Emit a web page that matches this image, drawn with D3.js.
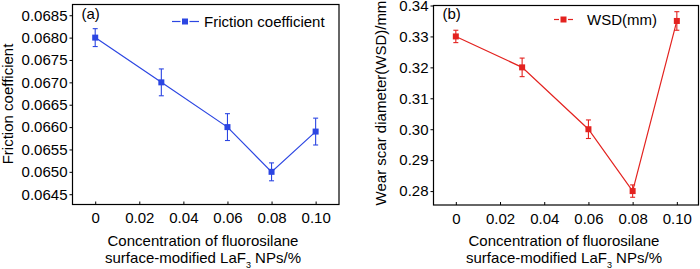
<!DOCTYPE html>
<html>
<head>
<meta charset="utf-8">
<script src="https://cdn.jsdelivr.net/npm/d3@7"></script>
<style>
  body { margin: 0; background: #fff; }
  svg { display: block; font-family: "Liberation Sans", Arial, sans-serif; }
</style>
</head>
<body>
<svg id="chart" width="700" height="269"></svg>
<script>
// data
const concentrations = [0, 0.03, 0.06, 0.08, 0.10];
const frictionValues = [0.0680, 0.0670, 0.0660, 0.0650, 0.0659];
const frictionErrors = [0.0002, 0.0003, 0.0003, 0.0002, 0.0003];
const wsdValues = [0.330, 0.320, 0.300, 0.280, 0.335];
const wsdErrors = [0.002, 0.003, 0.003, 0.002, 0.003];

const xTicks = [0, 0.02, 0.04, 0.06, 0.08, 0.10];
const xTickLabels = ["0", "0.02", "0.04", "0.06", "0.08", "0.10"];
const frictionTicks = [0.0645, 0.0650, 0.0655, 0.0660, 0.0665, 0.0670, 0.0675, 0.0680, 0.0685];
const wsdTicks = [0.28, 0.29, 0.30, 0.31, 0.32, 0.33, 0.34];

const svg = d3.select("#chart");

function drawPanel(opt) {
  const x = d3.scaleLinear().domain(opt.xDomain).range([opt.left, opt.right]);
  const y = d3.scaleLinear().domain(opt.yDomain).range([opt.bottom, opt.top]);
  const g = svg.append("g");

  // bottom axis, ticks pointing inward
  g.append("g")
    .attr("transform", `translate(0,${opt.bottom})`)
    .call(
      d3.axisBottom(x)
        .tickValues(xTicks)
        .tickFormat((d, i) => xTickLabels[i])
        .tickSizeInner(-3)
        .tickSizeOuter(0)
        .tickPadding(8)
    )
    .call((a) => a.select(".domain").remove())
    .call((a) => a.selectAll("text").style("font-size", "15px").attr("fill", "#000"));

  // left axis, ticks outward
  g.append("g")
    .attr("transform", `translate(${opt.left},0)`)
    .call(
      d3.axisLeft(y)
        .tickValues(opt.yTicks)
        .tickFormat(d3.format(opt.yFormat))
        .tickSizeInner(3)
        .tickSizeOuter(0)
        .tickPadding(2)
    )
    .call((a) => a.select(".domain").remove())
    .call((a) => a.selectAll("text").style("font-size", "15px").attr("fill", "#000"));

  // frame
  g.append("rect")
    .attr("x", opt.left)
    .attr("y", opt.top)
    .attr("width", opt.right - opt.left)
    .attr("height", opt.bottom - opt.top)
    .attr("fill", "none")
    .attr("stroke", "#000")
    .attr("stroke-width", 1.2);

  const pts = concentrations.map((c, i) => ({ c: c, v: opt.values[i], e: opt.errors[i] }));

  g.append("path")
    .datum(pts)
    .attr("fill", "none")
    .attr("stroke", opt.color)
    .attr("stroke-width", 1.2)
    .attr("d", d3.line().x((d) => x(d.c)).y((d) => y(d.v)));

  // error bars
  const eb = g.selectAll(".eb").data(pts).enter().append("g").attr("stroke", opt.color).attr("stroke-width", 1.1);
  eb.append("line")
    .attr("x1", (d) => x(d.c)).attr("x2", (d) => x(d.c))
    .attr("y1", (d) => y(d.v + d.e)).attr("y2", (d) => y(d.v - d.e));
  eb.append("line")
    .attr("x1", (d) => x(d.c) - 2.5).attr("x2", (d) => x(d.c) + 2.5)
    .attr("y1", (d) => y(d.v + d.e)).attr("y2", (d) => y(d.v + d.e));
  eb.append("line")
    .attr("x1", (d) => x(d.c) - 2.5).attr("x2", (d) => x(d.c) + 2.5)
    .attr("y1", (d) => y(d.v - d.e)).attr("y2", (d) => y(d.v - d.e));

  g.selectAll(".mk")
    .data(pts)
    .enter()
    .append("rect")
    .attr("x", (d) => x(d.c) - 3)
    .attr("y", (d) => y(d.v) - 3)
    .attr("width", 6)
    .attr("height", 6)
    .attr("fill", opt.color);

  // panel letter
  g.append("text")
    .attr("x", opt.left + 9)
    .attr("y", 19)
    .style("font-size", "15px")
    .text(opt.letter);

  // legend
  const lg = opt.legend;
  g.append("line")
    .attr("x1", lg.x1).attr("x2", lg.mx - 4.5)
    .attr("y1", lg.y).attr("y2", lg.y)
    .attr("stroke", opt.color).attr("stroke-width", 1.2);
  g.append("line")
    .attr("x1", lg.mx + 4.5).attr("x2", lg.x2)
    .attr("y1", lg.y).attr("y2", lg.y)
    .attr("stroke", opt.color).attr("stroke-width", 1.2);
  g.append("rect")
    .attr("x", lg.mx - 3).attr("y", lg.y - 3)
    .attr("width", 6).attr("height", 6)
    .attr("fill", opt.color);
  g.append("text")
    .attr("x", lg.tx)
    .attr("y", lg.y + 5)
    .style("font-size", "15px")
    .text(opt.name);

  // y title
  g.append("text")
    .attr("transform", `translate(${opt.yTitleX},${opt.yTitleY}) rotate(-90)`)
    .attr("text-anchor", "middle")
    .style("font-size", "15px")
    .text(opt.yTitle);

  // x title
  const cx = opt.xTitleX;
  g.append("text")
    .attr("x", cx)
    .attr("y", 246)
    .attr("text-anchor", "middle")
    .style("font-size", "15px")
    .text("Concentration of fluorosilane");
  const t2 = g.append("text")
    .attr("x", cx)
    .attr("y", 263)
    .attr("text-anchor", "middle")
    .style("font-size", "15px");
  t2.append("tspan").text("surface-modified LaF");
  t2.append("tspan").attr("dy", 5).style("font-size", "9px").text("3");
  t2.append("tspan").attr("dy", -5).text(" NPs/%");
}

drawPanel({
  left: 72.5, right: 339, top: 4.5, bottom: 204.5,
  xDomain: [-0.0103, 0.1106],
  yDomain: [0.06427, 0.06874],
  yTicks: frictionTicks,
  yFormat: ".4f",
  values: frictionValues,
  errors: frictionErrors,
  color: "#2c46e2",
  letter: "(a)",
  name: "Friction coefficient",
  legend: { x1: 172, x2: 199, mx: 185, y: 21.5, tx: 204 },
  yTitle: "Friction coefficient",
  yTitleX: 12.5, yTitleY: 104,
  xTitleX: 203
});

drawPanel({
  left: 433.5, right: 698.5, top: 5.5, bottom: 205,
  xDomain: [-0.0101, 0.1098],
  yDomain: [0.2755, 0.34],
  yTicks: wsdTicks,
  yFormat: ".2f",
  values: wsdValues,
  errors: wsdErrors,
  color: "#e3221f",
  letter: "(b)",
  name: "WSD(mm)",
  legend: { x1: 554, x2: 573, mx: 563.5, y: 19.5, tx: 587 },
  yTitle: "Wear scar diameter(WSD)/mm",
  yTitleX: 386, yTitleY: 103,
  xTitleX: 564
});
</script>
</body>
</html>
